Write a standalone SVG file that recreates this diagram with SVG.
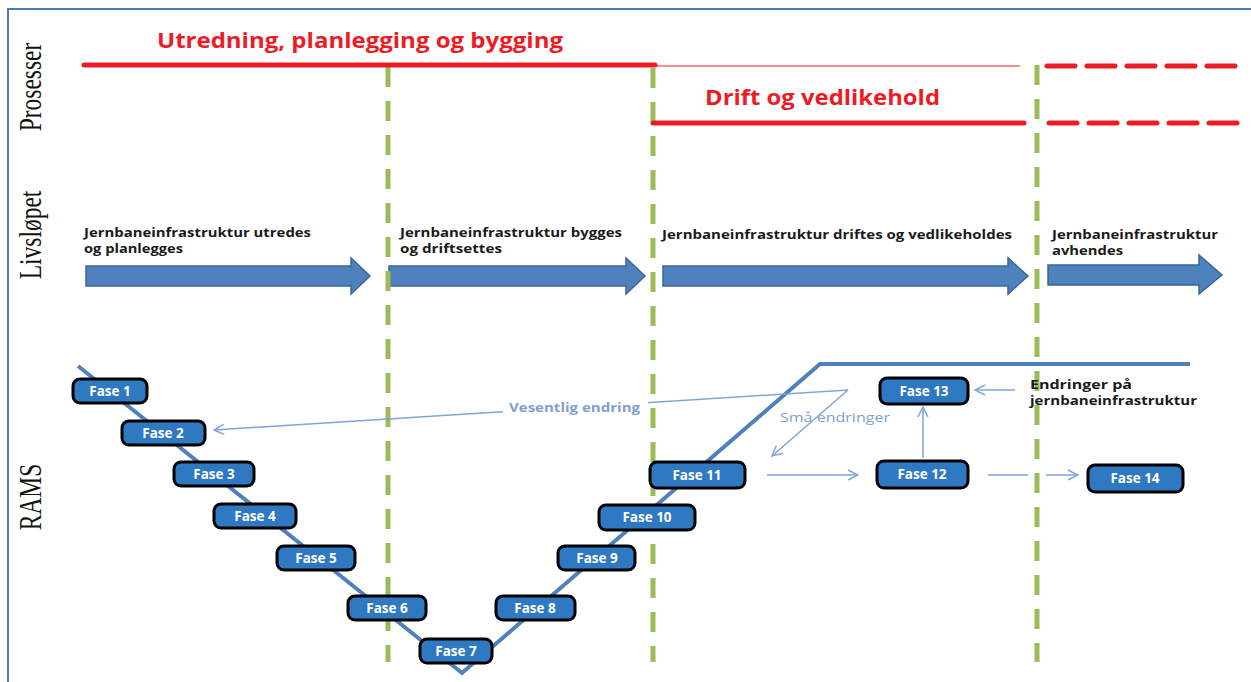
<svg xmlns="http://www.w3.org/2000/svg" width="1251" height="682" viewBox="0 0 1251 682">
<style>
.red{fill:#ed1c24;font-family:"Open Sans","Noto Sans",sans-serif;font-weight:bold;font-size:21px}
.lbl{fill:#1a1a1a;font-family:"Open Sans","Noto Sans",sans-serif;font-weight:bold;font-size:13px}
.side{fill:#111;font-family:"Liberation Serif",serif;font-size:23.5px}
.blk{fill:#4f81bd;stroke:#3a6596;stroke-width:1.5}
.green{stroke:#9bbb59;stroke-width:5;stroke-dasharray:20 14;fill:none}
.vline{stroke:#4f81bd;stroke-width:4;fill:none}
.thin{stroke:#7ea6d9;stroke-width:1.5;fill:none}
.box rect{fill:#2f78c2;stroke:#000;stroke-width:3}
.box text{fill:#fff;font-family:"Open Sans","Noto Sans",sans-serif;font-weight:bold;font-size:13.5px;text-anchor:middle}
.note{fill:#7f9fd0;font-family:"Open Sans","Noto Sans",sans-serif;font-size:13px}
</style>
<defs>
<marker id="open" viewBox="0 0 12 12" refX="11" refY="6" markerWidth="12" markerHeight="12" markerUnits="userSpaceOnUse" orient="auto">
<path d="M1,1 L11,6 L1,11" fill="none" stroke="#7ea6d9" stroke-width="1.5"/>
</marker>
</defs>
<rect x="0" y="0" width="1251" height="682" fill="#fff"/>
<rect x="8" y="9" width="1270" height="700" fill="none" stroke="#4a7ebb" stroke-width="2"/>

<g id="side-labels">
<text class="side" text-anchor="middle" transform="translate(41,87) rotate(-90) scale(1,1.35)">Prosesser</text>
<text class="side" text-anchor="middle" transform="translate(41,235) rotate(-90) scale(1,1.35)">Livsløpet</text>
<text class="side" text-anchor="middle" transform="translate(41,497) rotate(-90) scale(1,1.35)">RAMS</text>
</g>

<g id="livslop-arrows">
<polygon class="blk" points="86,266 351,266 351,258 370,276 351,294 351,286 86,286"/>
<polygon class="blk" points="389,266 626,266 626,258 645,276 626,294 626,286 389,286"/>
<polygon class="blk" points="663,266 1008,266 1008,258 1028,276 1008,294 1008,286 663,286"/>
<polygon class="blk" points="1048,265 1199,265 1199,255 1222,275 1199,294 1199,285 1048,285"/>
</g>

<g id="green-dividers">
<line class="green" x1="388" y1="67" x2="388" y2="662"/>
<line class="green" x1="653" y1="68" x2="653" y2="662"/>
<line class="green" x1="1037" y1="65" x2="1037" y2="662"/>
</g>

<g id="processes">
<line x1="84" y1="65" x2="655" y2="65" stroke="#ed1c24" stroke-width="5" stroke-linecap="round"/>
<line x1="655" y1="66" x2="1020" y2="66" stroke="#ed1c24" stroke-width="1"/>
<line x1="1047" y1="66" x2="1245" y2="66" stroke="#ed1c24" stroke-width="5" stroke-dasharray="28 12" stroke-linecap="round"/>
<line x1="653" y1="123" x2="1024" y2="123" stroke="#ed1c24" stroke-width="5" stroke-linecap="round"/>
<line x1="1049" y1="123" x2="1245" y2="123" stroke="#ed1c24" stroke-width="5" stroke-dasharray="28 12" stroke-linecap="round"/>
<text class="red" x="157" y="48" textLength="406" lengthAdjust="spacingAndGlyphs">Utredning, planlegging og bygging</text>
<text class="red" x="705" y="105" textLength="235" lengthAdjust="spacingAndGlyphs">Drift og vedlikehold</text>
</g>

<g id="livslop-labels">
<text class="lbl" x="84" y="237" textLength="227" lengthAdjust="spacingAndGlyphs">Jernbaneinfrastruktur utredes</text>
<text class="lbl" x="84" y="253" textLength="99" lengthAdjust="spacingAndGlyphs">og planlegges</text>
<text class="lbl" x="400" y="237" textLength="222" lengthAdjust="spacingAndGlyphs">Jernbaneinfrastruktur bygges</text>
<text class="lbl" x="400" y="253" textLength="102" lengthAdjust="spacingAndGlyphs">og driftsettes</text>
<text class="lbl" x="662" y="239" textLength="350" lengthAdjust="spacingAndGlyphs">Jernbaneinfrastruktur driftes og vedlikeholdes</text>
<text class="lbl" x="1052" y="239" textLength="166" lengthAdjust="spacingAndGlyphs">Jernbaneinfrastruktur</text>
<text class="lbl" x="1052" y="255" textLength="71" lengthAdjust="spacingAndGlyphs">avhendes</text>
</g>

<g id="v-model">
<polyline class="vline" points="78,366 462,673 820,364 1190,364"/>
</g>

<g id="connectors">
<line class="thin" x1="848" y1="390" x2="214" y2="430" marker-end="url(#open)"/>
<line class="thin" x1="848" y1="390" x2="772" y2="456" marker-end="url(#open)"/>
<line class="thin" x1="767" y1="475" x2="858" y2="475" marker-end="url(#open)"/>
<line class="thin" x1="923" y1="458" x2="923" y2="407" marker-end="url(#open)"/>
<line class="thin" x1="988" y1="475" x2="1028" y2="475"/>
<line class="thin" x1="1046" y1="475" x2="1078" y2="475" marker-end="url(#open)"/>
<line class="thin" x1="1015" y1="390" x2="975" y2="390" marker-end="url(#open)"/>
<rect x="503" y="397" width="145" height="22" fill="#fff"/>
<text class="note" x="509" y="412" font-weight="bold" textLength="131" lengthAdjust="spacingAndGlyphs">Vesentlig endring</text>
<text class="note" x="780" y="422" textLength="110" lengthAdjust="spacingAndGlyphs">Små endringer</text>
<text class="lbl" x="1030" y="389" textLength="102" lengthAdjust="spacingAndGlyphs">Endringer på</text>
<text class="lbl" x="1030" y="405" textLength="167" lengthAdjust="spacingAndGlyphs">jernbaneinfrastruktur</text>
</g>

<g id="fase1" class="box"><rect x="73" y="379" width="74" height="24" rx="7"/><text x="110" y="396">Fase 1</text></g>
<g id="fase2" class="box"><rect x="122" y="421" width="83" height="24" rx="7"/><text x="163" y="438">Fase 2</text></g>
<g id="fase3" class="box"><rect x="174" y="462" width="80" height="24" rx="7"/><text x="214" y="479">Fase 3</text></g>
<g id="fase4" class="box"><rect x="214" y="504" width="82" height="24" rx="7"/><text x="255" y="521">Fase 4</text></g>
<g id="fase5" class="box"><rect x="277" y="546" width="78" height="24" rx="7"/><text x="316" y="563">Fase 5</text></g>
<g id="fase6" class="box"><rect x="348" y="596" width="78" height="24" rx="7"/><text x="387" y="613">Fase 6</text></g>
<g id="fase7" class="box"><rect x="420" y="639" width="72" height="24" rx="7"/><text x="456" y="656">Fase 7</text></g>
<g id="fase8" class="box"><rect x="496" y="596" width="79" height="24" rx="7"/><text x="535" y="613">Fase 8</text></g>
<g id="fase9" class="box"><rect x="558" y="546" width="77" height="24" rx="7"/><text x="597" y="563">Fase 9</text></g>
<g id="fase10" class="box"><rect x="599" y="505" width="96" height="25" rx="7"/><text x="647" y="522">Fase 10</text></g>
<g id="fase11" class="box"><rect x="650" y="462" width="95" height="26" rx="7"/><text x="697" y="480">Fase 11</text></g>
<g id="fase12" class="box"><rect x="877" y="461" width="91" height="27" rx="7"/><text x="922" y="479">Fase 12</text></g>
<g id="fase13" class="box"><rect x="880" y="378" width="88" height="26" rx="7"/><text x="924" y="396">Fase 13</text></g>
<g id="fase14" class="box"><rect x="1088" y="465" width="95" height="27" rx="7"/><text x="1135" y="483">Fase 14</text></g>
</svg>
